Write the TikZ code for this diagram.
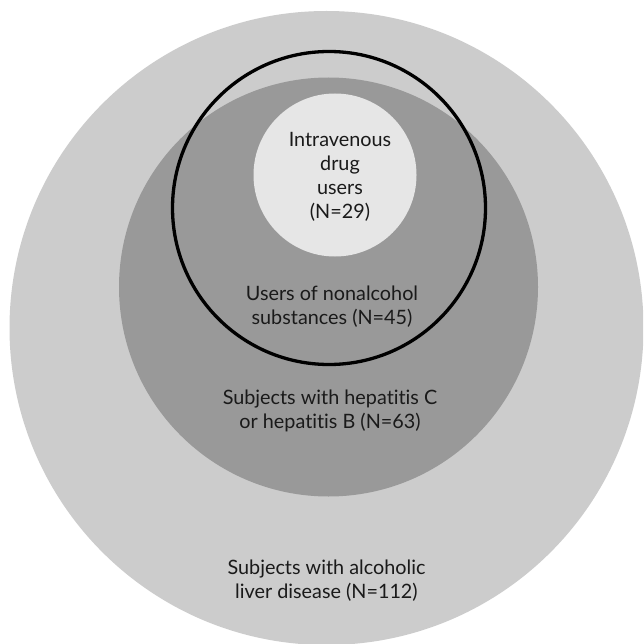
\documentclass[tikz,border=0pt]{standalone}
\usepackage{fontspec}
\setmainfont[Ligatures=NoCommon]{Lato}
\definecolor{outergray}{HTML}{CCCCCC}
\definecolor{midgray}{HTML}{999999}
\definecolor{innergray}{HTML}{E6E6E6}
\definecolor{txt}{HTML}{1A1A1A}
\begin{document}
\begin{tikzpicture}[x=1pt,y=-1pt,
  disc/.style={circle, inner sep=0pt, draw=none},
  ring/.style={circle, inner sep=0pt, draw=black, line width=3.3pt, fill=none},
  lbl/.style={align=center, inner sep=0pt, text=txt, font=\fontsize{19.8}{24.2}\selectfont}]
\useasboundingbox (0,0) rectangle (643,644);
\fill[white] (0,0) rectangle (643,644);
\begin{scope}
\clip (0,0) rectangle (643,644);
\node[disc, fill=outergray, minimum size=634pt] (outer) at (326.5,328) {};
\node[disc, fill=midgray, minimum size=419pt] (hep) at (328.5,287) {};
\node[disc, fill=innergray, minimum size=163pt] (ivdu) at (335,175) {};
\node[ring, minimum size=313pt] (nonalc) at (329,208) {};
\end{scope}
\node[lbl] (tivdu) at (340,177) {Intravenous\\drug\\users\\(N=29)};
\node[lbl] (tnonalc) at (332,307) {Users of nonalcohol\\substances (N=45)};
\node[lbl] (thep) at (330,411) {Subjects with hepatitis C\\or hepatitis B (N=63)};
\node[lbl] (touter) at (326.5,581) {Subjects with alcoholic\\liver disease (N=112)};
\end{tikzpicture}
\end{document}
